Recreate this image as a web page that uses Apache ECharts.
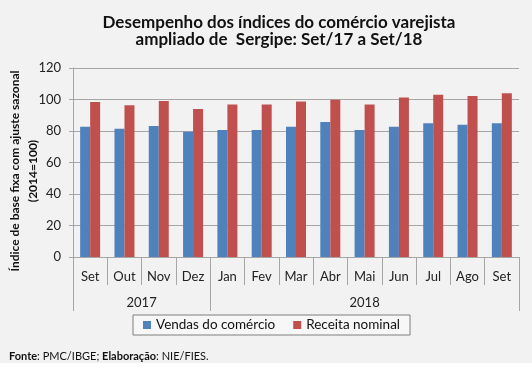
<!DOCTYPE html>
<html>
<head>
<meta charset="utf-8">
<script src="https://cdn.jsdelivr.net/npm/echarts@6/dist/echarts.min.js"></script>
<style>html,body{margin:0;padding:0;background:#fff}#c{width:532px;height:368px}</style>
</head>
<body>
<div id="c"></div>
<script>
var months = ['Set','Out','Nov','Dez','Jan','Fev','Mar','Abr','Mai','Jun','Jul','Ago','Set'];
var years = ['2017','2018'];
var monthsPerYear = [4, 9];
var vendas = [82.7, 81.4, 83.2, 79.5, 80.6, 80.6, 82.7, 85.7, 80.6, 82.7, 84.9, 84.0, 84.9];
var receita = [98.4, 96.3, 99.0, 93.9, 96.9, 96.9, 98.8, 99.8, 96.9, 101.3, 103.0, 102.2, 103.9];
var yTicks = [0, 20, 40, 60, 80, 100, 120];

var bounds = [0], centers = [];
monthsPerYear.forEach(function (n, i) {
  var start = bounds[bounds.length - 1];
  centers.push(start + n / 2);
  bounds.push(start + n);
});

var FONT = 'Lato, "Open Sans", sans-serif';
var gridColor = '#a6a6a6';
var chart = echarts.init(document.getElementById('c'), null, {renderer: 'canvas'});
chart.setOption({
  backgroundColor: '#f2f2f2',
  animation: false,
  textStyle: {fontFamily: FONT},
  title: {
    text: 'Desempenho dos índices do comércio varejista\nampliado de  Sergipe: Set/17 a Set/18',
    left: 274, top: 9, textAlign: 'center',
    textStyle: {fontSize: 17, fontWeight: 'bold', color: '#111', lineHeight: 17, fontFamily: FONT}
  },
  legend: {
    left: 133, top: 315, width: 270, height: 20,
    itemWidth: 8, itemHeight: 8, itemGap: 18,
    icon: 'rect',
    padding: [3, 10, 3, 10],
    borderColor: '#7f7f7f', borderWidth: 1,
    backgroundColor: '#f7f7f7',
    textStyle: {fontSize: 13.5, color: '#111', fontFamily: FONT},
    data: ['Vendas do comércio', 'Receita nominal']
  },
  grid: {left: 73, right: 13, top: 68, bottom: 111},
  xAxis: [{
    type: 'category', data: months,
    axisLine: {lineStyle: {color: gridColor}},
    axisTick: {show: true, length: 28, interval: 0, lineStyle: {color: gridColor}},
    axisLabel: {interval: 0, fontSize: 13, color: '#222', margin: 13, fontFamily: FONT}
  }, {
    type: 'value', position: 'bottom', min: 0, max: bounds[bounds.length - 1],
    axisLine: {show: false},
    splitLine: {show: false},
    axisTick: {show: true, customValues: bounds, length: 54, lineStyle: {color: gridColor}},
    axisLabel: {
      customValues: centers, fontSize: 13, color: '#222', margin: 39, fontFamily: FONT,
      formatter: function (v) { var i = centers.indexOf(v); return i >= 0 ? years[i] : ''; }
    }
  }],
  yAxis: {
    type: 'value', min: yTicks[0], max: yTicks[yTicks.length - 1], interval: 20,
    axisLine: {show: true, lineStyle: {color: gridColor}},
    axisTick: {show: true, length: 4, lineStyle: {color: gridColor}},
    splitLine: {lineStyle: {color: gridColor}},
    axisLabel: {fontSize: 13, color: '#222', margin: 12, fontFamily: FONT}
  },
  graphic: [{
    type: 'text', x: 24, y: 171, rotation: Math.PI / 2,
    style: {
      text: 'Índice de base fixa com ajuste sazonal\n(2014=100)',
      align: 'center', verticalAlign: 'middle',
      fontSize: 12, fontWeight: 'bold', lineHeight: 18, fill: '#111', fontFamily: FONT
    }
  }, {
    type: 'text', x: 9, y: 356,
    style: {
      text: '{b|Fonte}: PMC/IBGE; {b|Elaboração}: NIE/FIES.',
      verticalAlign: 'middle', fontSize: 11, fill: '#111', fontFamily: FONT,
      rich: {b: {fontWeight: 'bold', fontSize: 11, fill: '#111', fontFamily: FONT}}
    }
  }, {
    type: 'rect', shape: {x: 0, y: 363, width: 532, height: 5}, style: {fill: '#fff'}
  }],
  series: [{
    name: 'Vendas do comércio', type: 'bar', data: vendas, barWidth: 10, barGap: '0%',
    itemStyle: {color: '#4f81bd'}
  }, {
    name: 'Receita nominal', type: 'bar', data: receita, barWidth: 10, barGap: '0%',
    itemStyle: {color: '#c0504d'}
  }]
});
</script>
</body>
</html>
